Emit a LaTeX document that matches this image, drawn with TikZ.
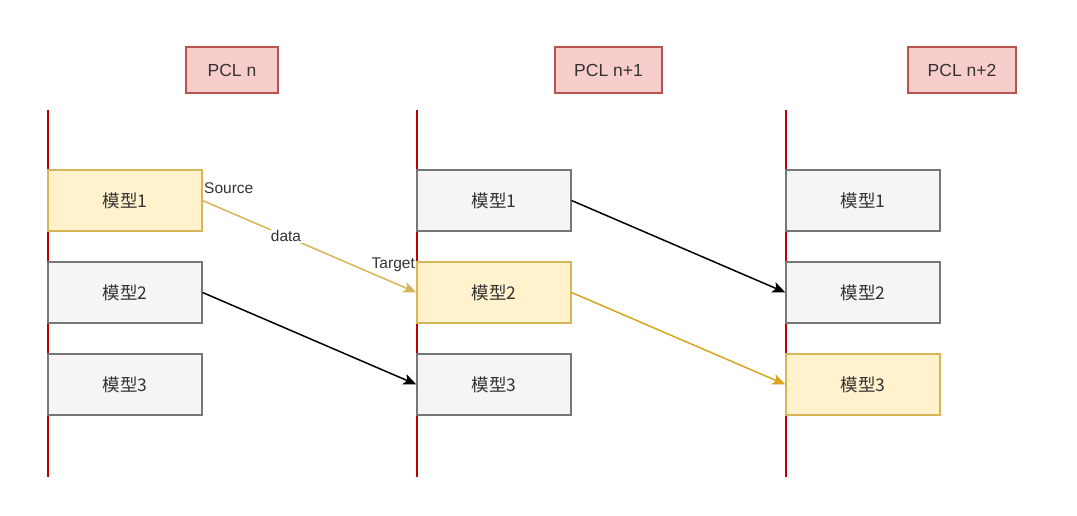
\documentclass[tikz,border=0pt]{standalone}
\usepackage{fontspec}
\setmainfont{Liberation Sans}
\newfontfamily\cjk{Noto Sans CJK SC}
\usetikzlibrary{arrows.meta}
\definecolor{grayfill}{HTML}{F5F5F5}
\definecolor{graystroke}{HTML}{777777}
\definecolor{yelfill}{HTML}{FFF2CC}
\definecolor{yelstroke}{HTML}{D6B656}
\definecolor{redfill}{HTML}{F8CECC}
\definecolor{redstroke}{HTML}{B85450}
\definecolor{lanecol}{HTML}{C00000}
\definecolor{goldarrow}{HTML}{D9A520}
\definecolor{txt}{HTML}{333333}
\tikzset{
  x=1pt,y=-1pt,
  model/.style={draw=graystroke,fill=grayfill,line width=1.2pt,minimum width=154pt,minimum height=61pt,inner sep=0pt,font=\cjk\fontsize{17.5}{19}\selectfont,text=txt},
  hot/.style={model,draw=yelstroke,fill=yelfill},
  header/.style={draw=redstroke,fill=redfill,line width=1.2pt,minimum height=46pt,inner sep=0pt,font=\fontsize{17.5}{19}\selectfont,text=txt},
  lanel/.style={draw=lanecol,line width=1.5pt},
  conn/.style={line width=1.5pt,-{Stealth[length=13pt,width=11pt,inset=3pt]}},
  lbl/.style={font=\fontsize{15.5}{17}\selectfont,text=txt,inner sep=1pt}
}
\begin{document}
\begin{tikzpicture}
\useasboundingbox (0,0) rectangle (1077,515);
% header boxes
\node[header,minimum width=92pt] (h1) at (232,70) {PCL n};
\node[header,minimum width=107pt] (h2) at (608.5,70) {PCL n+1};
\node[header,minimum width=108pt] (h3) at (962,70) {PCL n+2};
% lanes
\coordinate (l1t) at (48,110); \coordinate (l1b) at (48,477);
\coordinate (l2t) at (417,110); \coordinate (l2b) at (417,477);
\coordinate (l3t) at (786,110); \coordinate (l3b) at (786,477);
\draw[lanel] (l1t) -- (l1b);
\draw[lanel] (l2t) -- (l2b);
\draw[lanel] (l3t) -- (l3b);
% boxes
\node[hot]   (a1) at (125,200.5) {模型1};
\node[model] (a2) at (125,292.5) {模型2};
\node[model] (a3) at (125,384.5) {模型3};
\node[model] (b1) at (494,200.5) {模型1};
\node[hot]   (b2) at (494,292.5) {模型2};
\node[model] (b3) at (494,384.5) {模型3};
\node[model] (c1) at (863,200.5) {模型1};
\node[model] (c2) at (863,292.5) {模型2};
\node[hot]   (c3) at (863,384.5) {模型3};
% connectors
\draw[conn,draw=yelstroke,fill=yelstroke] (a1.east) -- node[lbl,fill=white,pos=0.39] {data} (b2.west);
\node[lbl,anchor=west] (src) at (203,188) {Source};
\node[lbl,anchor=east] (tgt) at (416,265) {Target};
\draw[conn,draw=black,fill=black] (a2.east) -- (b3.west);
\draw[conn,draw=black,fill=black] (b1.east) -- (c2.west);
\draw[conn,draw=goldarrow,fill=goldarrow] (b2.east) -- (c3.west);
\end{tikzpicture}
\end{document}
